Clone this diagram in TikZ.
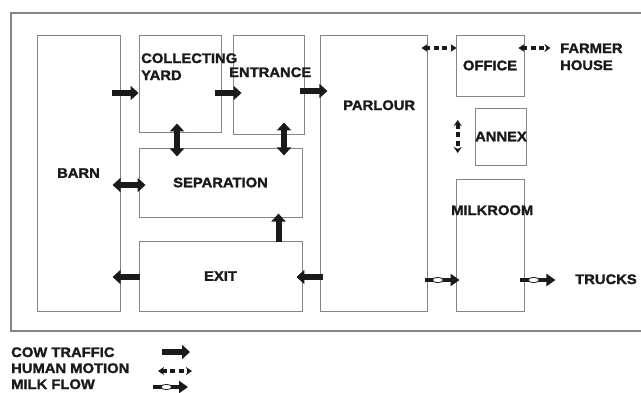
\documentclass[tikz,border=0pt]{standalone}
\usepackage{fontspec}
\setmainfont{Liberation Sans}[FakeStretch=1.07, BoldFeatures={FakeBold=1.6}]
\usetikzlibrary{arrows.meta, calc, decorations.markings}
\definecolor{cframe}{HTML}{858585}
\definecolor{cink}{HTML}{1A1A1A}
\tikzset{
  every picture/.style={font=\bfseries\fontsize{13.8bp}{17bp}\selectfont},
  box/.style={draw=cframe, line width=0.9bp, inner sep=0pt, text=cink},
  lbl/.style={anchor=base west, inner sep=0pt, text=cink, align=left},
  cow/.style={-{Triangle[length=8bp,width=14bp]}, line width=6bp, draw=cink},
  cowboth/.style={{Triangle[length=8bp,width=14bp]}-{Triangle[length=8bp,width=14bp]}, line width=6bp, draw=cink},
  human/.style={{Stealth[length=6bp,width=8bp]}-{Stealth[length=6bp,width=8bp]}, line width=3.6bp, draw=cink, dash pattern=on 5bp off 3.5bp},
  milk/.style={-{Triangle[length=9bp,width=12bp]}, line width=4bp, draw=cink,
    postaction={decorate, decoration={markings, mark=at position 0.38 with {\draw[cink, fill=white, line width=0.8bp] (0,0) ellipse (5.5bp and 2.6bp);}}}},
}
\begin{document}
\begin{tikzpicture}[x=1bp, y=-1bp]
  \useasboundingbox (0,0) rectangle (641,392);
  % outer frame, open to the right
  \draw[cframe, line width=1.2bp] (641,13) -- (11,13) -- (11,331) -- (641,331);
  % rooms
  \node[box, minimum width=83bp, minimum height=276bp] (barn) at (78.5,173) {BARN};
  \node[box, minimum width=82bp, minimum height=97bp] (yard) at (180,83.5) {};
  \node[box, minimum width=71bp, minimum height=99bp] (entrance) at (268.5,84.5) {};
  \node[box, minimum width=163bp, minimum height=69bp] (separation) at (220.5,182.5) {SEPARATION};
  \node[box, minimum width=163bp, minimum height=70bp] (exit) at (220.5,276) {EXIT};
  \node[box, minimum width=107bp, minimum height=276bp] (parlour) at (373.5,173) {};
  \node[box, minimum width=68bp, minimum height=61bp] (office) at (490,65.5) {OFFICE};
  \node[box, minimum width=46bp, minimum height=57bp] (annex) at (501,136.5) {ANNEX};
  \node[box, minimum width=68bp, minimum height=132bp] (milkroom) at (490,245) {};
  % labels set off the centre
  \node[lbl] (yardtxt) at (141,80) {COLLECTING\\YARD};
  \node[lbl] (entrancetxt) at (229,77) {ENTRANCE};
  \node[lbl] (parlourtxt) at (343,110) {PARLOUR};
  \node[lbl] (milkroomtxt) at (451,215) {MILKROOM};
  \node[lbl] (farmer) at (560,70) {FARMER\\HOUSE};
  \node[lbl] (trucks) at (575,284) {TRUCKS};
  % cow traffic
  \draw[cow] ($(yard.west)+(-27,9.5)$) -- ($(yard.west)+(0,9.5)$);
  \draw[cow] ($(entrance.west)+(-18,8.5)$) -- ($(entrance.west)+(9,8.5)$);
  \draw[cow] ($(entrance.east)+(-4,6.5)$) -- ($(entrance.east)+(23,6.5)$);
  \draw[cowboth] ($(yard.south)+(-3,-9)$) -- ($(yard.south)+(-3,24)$);
  \draw[cowboth] ($(entrance.south)+(15.5,-12)$) -- ($(entrance.south)+(15.5,21)$);
  \draw[cowboth] ($(separation.west)+(-26,2.5)$) -- ($(separation.west)+(7,2.5)$);
  \draw[cow] ($(exit.north)+(58,1)$) -- ($(exit.north)+(58,-27)$);
  \draw[cow] ($(exit.west)+(1,1)$) -- ($(exit.west)+(-26,1)$);
  \draw[cow] ($(exit.east)+(21,1)$) -- ($(exit.east)+(-6,1)$);
  % human motion
  \draw[human] ($(office.west)+(-34,-17.5)$) -- ($(office.west)+(1,-17.5)$);
  \draw[human] ($(office.east)+(-6,-17.5)$) -- ($(office.east)+(26,-17.5)$);
  \draw[human] ($(annex.west)+(-17,-16.5)$) -- ($(annex.west)+(-17,16.5)$);
  % milk flow
  \draw[milk] ($(milkroom.west)+(-31,35)$) -- ($(milkroom.west)+(4,35)$);
  \draw[milk] ($(milkroom.east)+(-4,35)$) -- ($(milkroom.east)+(31,35)$);
  % legend
  \node[lbl] (lcow) at (11,357) {COW TRAFFIC};
  \node[lbl] (lhuman) at (11,373) {HUMAN MOTION};
  \node[lbl] (lmilk) at (11,389) {MILK FLOW};
  \draw[cow] ($(lcow.base west)+(151,-5)$) -- ($(lcow.base west)+(179,-5)$);
  \draw[human] ($(lhuman.base west)+(147,-2)$) -- ($(lhuman.base west)+(181,-2)$);
  \draw[milk] ($(lmilk.base west)+(142,-2)$) -- ($(lmilk.base west)+(177,-2)$);
\end{tikzpicture}
\end{document}
